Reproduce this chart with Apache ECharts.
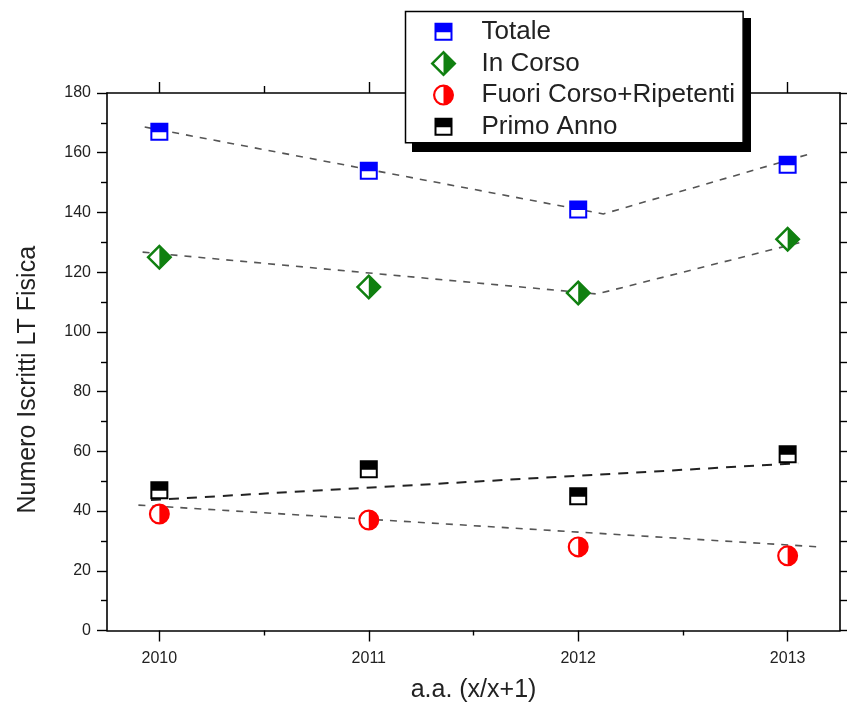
<!DOCTYPE html>
<html>
<head>
<meta charset="utf-8">
<script src="https://cdn.jsdelivr.net/npm/echarts@6/dist/echarts.min.js"></script>
<style>
  html, body { margin: 0; padding: 0; background: #fff; }
  #chart { width: 851px; height: 711px; }
</style>
</head>
<body>
<div id="chart"></div>
<script>
const FONT = '"Liberation Sans", Arial, sans-serif';
const TEXT = '#222';

// anni accademici
const years = [2010, 2011, 2012, 2013];
const majorTicks = [2010, 2011, 2012, 2013];
const minorTicks = [2010.5, 2011.5, 2012.5];

// iscritti
const totale = [167, 154, 141, 156];
const inCorso = [125, 115, 113, 131];
const fuoriCorso = [39, 37, 28, 25];
const primoAnno = [47, 54, 45, 59];

// dashed guide lines
const totaleFit = [[2009.93, 168.6], [2012.12, 139.5], [2013.1, 159.5]];
const inCorsoFit = [[2009.92, 126.7], [2012.09, 112.7], [2013.08, 130.3]];
const fuoriCorsoFit = [[2009.9, 42.0], [2013.15, 28.0]];
const primoAnnoFit = [[2009.96, 43.7], [2013.05, 56.0]];

// half-filled symbols (outer shape + reversed hole)
const SQUARE_HALF = 'path://M0,0H18V18H0Z M2,9.5V16H16V9.5Z';
const DIAMOND_HALF = 'path://M13,0L26,13L13,26L0,13Z M13,3.5L3.5,13L13,22.5Z';
const CIRCLE_HALF = 'path://M10.5,0A10.5,10.5 0 0 1 10.5,21A10.5,10.5 0 0 1 10.5,0Z M10.5,2.2A8.3,8.3 0 0 0 10.5,18.8Z';
// legend icons share one 26px box, so pad the smaller ones with empty points
const SQUARE_ICON = 'path://M-4,-4L-4,-4Z M22,22L22,22Z M0,0H18V18H0Z M2,9.5V16H16V9.5Z';
const CIRCLE_ICON = 'path://M-2.5,-2.5L-2.5,-2.5Z M23.5,23.5L23.5,23.5Z M10.5,0A10.5,10.5 0 0 1 10.5,21A10.5,10.5 0 0 1 10.5,0Z M10.5,2.2A8.3,8.3 0 0 0 10.5,18.8Z';

const BLUE = '#0000ff';
const GREEN = '#108010';
const RED = '#ff0000';
const BLACK = '#000000';

const pair = (vals) => vals.map((v, i) => [years[i], v]);

function fitLine(data, color, dash, width) {
  return {
    type: 'line',
    data: data,
    showSymbol: false,
    silent: true,
    z: 2,
    lineStyle: {color: color, width: width, type: dash}
  };
}

function backing(vals, symbol, size) {
  return {
    type: 'scatter',
    name: '_bg',
    data: pair(vals),
    symbol: symbol,
    symbolSize: size,
    silent: true,
    z: 3,
    itemStyle: {color: '#fff', opacity: 1}
  };
}

function markers(name, vals, symbol, size, color) {
  return {
    type: 'scatter',
    name: name,
    data: pair(vals),
    symbol: symbol,
    symbolSize: size,
    z: 4,
    itemStyle: {color: color, opacity: 1}
  };
}

const chart = echarts.init(document.getElementById('chart'));

chart.setOption({
  animation: false,
  textStyle: {fontFamily: FONT},
  grid: {left: 107, right: 11, top: 93, bottom: 80.5},
  // hard drop shadow behind the legend box
  graphic: [{
    type: 'rect',
    z: 3,
    silent: true,
    shape: {x: 412, y: 18, width: 339, height: 134},
    style: {fill: '#000'}
  }],
  legend: {
    orient: 'vertical',
    left: 405.5,
    top: 11.5,
    padding: [7.2, 8, 3, 25],
    itemWidth: 26,
    itemHeight: 26,
    itemGap: 5.7,
    symbolKeepAspect: true,
    backgroundColor: '#fff',
    borderColor: '#000',
    borderWidth: 1.5,
    textStyle: {fontFamily: FONT, fontSize: 26, lineHeight: 26, color: TEXT, padding: [0, 0, 0, 20]},
    data: [
      {name: 'Totale', icon: SQUARE_ICON},
      {name: 'In Corso', icon: DIAMOND_HALF},
      {name: 'Fuori Corso+Ripetenti', icon: CIRCLE_ICON},
      {name: 'Primo Anno', icon: SQUARE_ICON}
    ]
  },
  xAxis: [{
    type: 'value',
    position: 'bottom',
    min: 2009.75,
    max: 2013.25,
    name: 'a.a. (x/x+1)',
    nameLocation: 'middle',
    nameGap: 47,
    nameTextStyle: {fontFamily: FONT, fontSize: 25, color: TEXT},
    axisLine: {show: true, lineStyle: {color: BLACK, width: 1.6}},
    axisTick: {show: true, customValues: majorTicks, length: 11, lineStyle: {color: BLACK, width: 1.4}},
    axisLabel: {customValues: majorTicks, margin: 20, fontFamily: FONT, fontSize: 16, color: TEXT, formatter: (v) => String(v)},
    splitLine: {show: false}
  }, {
    type: 'value',
    position: 'bottom',
    min: 2009.75,
    max: 2013.25,
    axisLine: {show: false},
    axisTick: {show: true, customValues: minorTicks, length: 5, lineStyle: {color: BLACK, width: 1.4}},
    axisLabel: {show: false},
    splitLine: {show: false}
  }, {
    type: 'value',
    position: 'top',
    min: 2009.75,
    max: 2013.25,
    axisLine: {show: true, lineStyle: {color: BLACK, width: 1.6}},
    axisTick: {show: true, customValues: majorTicks, length: 11, lineStyle: {color: BLACK, width: 1.4}},
    axisLabel: {show: false},
    splitLine: {show: false}
  }, {
    type: 'value',
    position: 'top',
    min: 2009.75,
    max: 2013.25,
    axisLine: {show: false},
    axisTick: {show: true, customValues: minorTicks, length: 7, lineStyle: {color: BLACK, width: 1.4}},
    axisLabel: {show: false},
    splitLine: {show: false}
  }],
  yAxis: [{
    type: 'value',
    position: 'left',
    min: 0,
    max: 180,
    interval: 20,
    name: 'Numero Iscritti LT Fisica',
    nameLocation: 'middle',
    nameGap: 66,
    nameTextStyle: {fontFamily: FONT, fontSize: 25, color: TEXT, padding: [0, 36, 0, 0]},
    axisLine: {show: true, lineStyle: {color: BLACK, width: 1.6}},
    axisTick: {show: true, length: 10, lineStyle: {color: BLACK, width: 1.4}},
    minorTick: {show: true, splitNumber: 2, length: 6, lineStyle: {color: BLACK, width: 1.4}},
    axisLabel: {margin: 16, fontFamily: FONT, fontSize: 16, color: TEXT},
    splitLine: {show: false}
  }, {
    type: 'value',
    position: 'right',
    min: 0,
    max: 180,
    interval: 10,
    axisLine: {show: true, lineStyle: {color: BLACK, width: 1.6}},
    axisTick: {show: true, length: 7, lineStyle: {color: BLACK, width: 1.4}},
    axisLabel: {show: false},
    splitLine: {show: false}
  }],
  series: [
    fitLine(totaleFit, '#555', [7, 7], 1.6),
    fitLine(inCorsoFit, '#555', [7, 7], 1.6),
    fitLine(fuoriCorsoFit, '#555', [7, 7], 1.6),
    fitLine(primoAnnoFit, '#222', [10, 8], 2),
    backing(totale, 'rect', 16),
    backing(inCorso, 'diamond', 24),
    backing(fuoriCorso, 'circle', 19),
    backing(primoAnno, 'rect', 16),
    markers('Totale', totale, SQUARE_HALF, 18, BLUE),
    markers('In Corso', inCorso, DIAMOND_HALF, 26, GREEN),
    markers('Fuori Corso+Ripetenti', fuoriCorso, CIRCLE_HALF, 21, RED),
    markers('Primo Anno', primoAnno, SQUARE_HALF, 18, BLACK)
  ]
});
</script>
</body>
</html>
